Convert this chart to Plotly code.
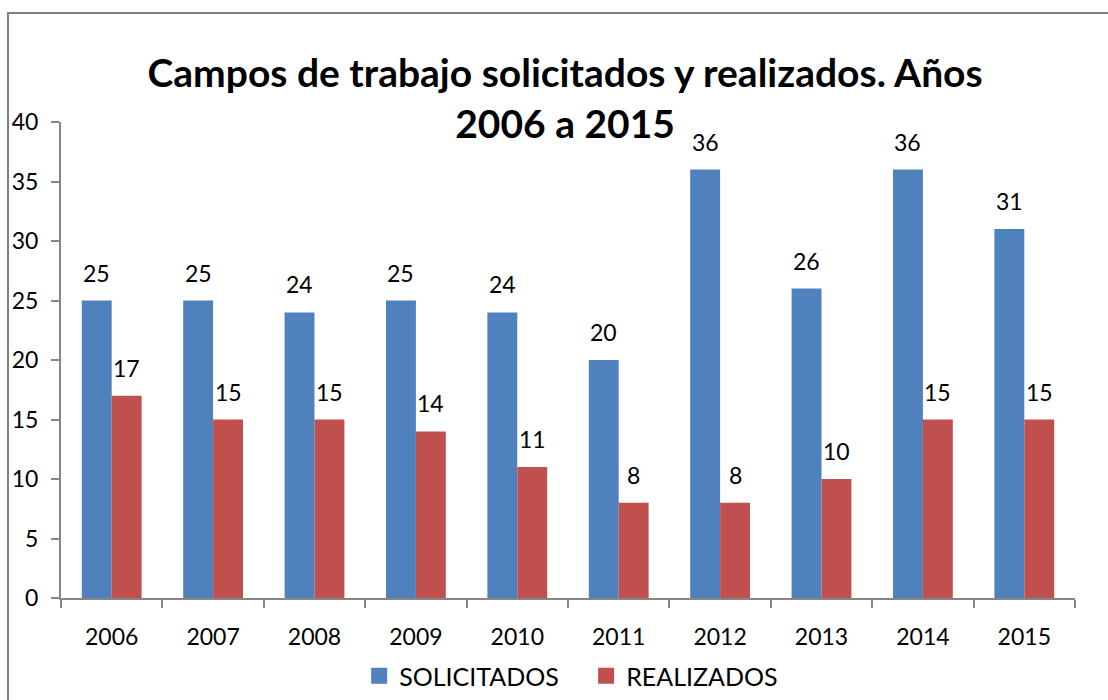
import plotly.graph_objects as go

years = ["2006", "2007", "2008", "2009", "2010", "2011", "2012", "2013", "2014", "2015"]
solicitados = [25, 25, 24, 25, 24, 20, 36, 26, 36, 31]
realizados = [17, 15, 15, 14, 11, 8, 8, 10, 15, 15]

FONT = "Lato, Carlito, Calibri, 'Open Sans', sans-serif"
BLUE = "#4F81BD"
RED = "#C0504D"

fig = go.Figure()
fig.add_bar(x=years, y=solicitados, name="SOLICITADOS", marker_color=BLUE,
            marker_line_width=0, showlegend=False)
fig.add_bar(x=years, y=realizados, name="REALIZADOS", marker_color=RED,
            marker_line_width=0, showlegend=False)
# legend entries with square swatches
fig.add_scatter(x=[years[0]], y=[None], mode="markers", name="SOLICITADOS",
                marker=dict(symbol="square", size=18, color=BLUE))
fig.add_scatter(x=[years[0]], y=[None], mode="markers", name="REALIZADOS",
                marker=dict(symbol="square", size=18, color=RED))

annotations = []
for i, v in enumerate(solicitados):
    annotations.append(dict(x=i, y=v, xref="x", yref="y", text=str(v), showarrow=False,
                            xshift=-15, yshift=12, yanchor="bottom",
                            font=dict(size=23, family=FONT, color="black")))
for i, v in enumerate(realizados):
    annotations.append(dict(x=i, y=v, xref="x", yref="y", text=str(v), showarrow=False,
                            xshift=15, yshift=12, yanchor="bottom",
                            font=dict(size=23, family=FONT, color="black")))

fig.update_layout(
    width=1108, height=700,
    margin=dict(l=61, r=33, t=122, b=102),
    paper_bgcolor="white", plot_bgcolor="white",
    barmode="group", bargap=0.41, bargroupgap=0,
    font=dict(family=FONT, size=23, color="black"),
    title=dict(text="<b>Campos de trabajo solicitados y realizados. Años<br>2006 a 2015</b>",
               x=0.51, xanchor="center", y=1 - 87 / 700, yanchor="middle", yref="container",
               font=dict(size=39, family=FONT, color="black")),
    legend=dict(orientation="h", x=0.529, xanchor="center", xref="container",
                y=1 - 676 / 700, yanchor="middle", yref="container",
                font=dict(size=25, family=FONT), bgcolor="rgba(0,0,0,0)",
                itemwidth=30, tracegroupgap=0, entrywidth=182),
    showlegend=True,
    annotations=annotations,
    xaxis=dict(type="category", showline=True, linecolor="#868686", linewidth=2,
               ticks="outside", tickson="boundaries", ticklen=8, tickcolor="#868686",
               tickwidth=2, showgrid=False, tickfont=dict(size=23), range=[-0.5, 9.5],
               automargin=False, ticklabelstandoff=17),
    yaxis=dict(range=[0, 40], dtick=5, showline=True, linecolor="#868686", linewidth=2,
               ticks="outside", ticklen=8, tickcolor="#868686", tickwidth=2,
               showgrid=False, zeroline=False, tickfont=dict(size=23),
               automargin=False, ticklabelstandoff=8),
    shapes=[dict(type="rect", xref="paper", yref="paper",
                 x0=(8 - 61) / 1014, x1=1.2, y0=-0.5, y1=1 + (122 - 13) / 476,
                 line=dict(color="#808080", width=2), fillcolor="rgba(0,0,0,0)", layer="below")],
)

fig.write_html("out.html", config={"displayModeBar": False},
               post_script="document.body.style.margin='0px';")
